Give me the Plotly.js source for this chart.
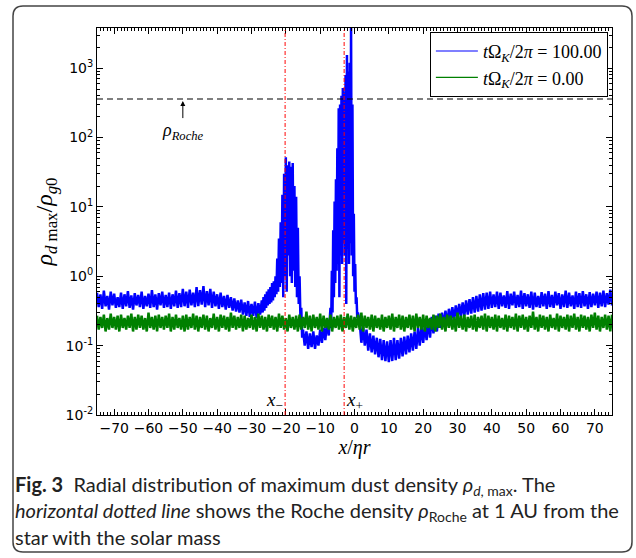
<!DOCTYPE html>
<html>
<head>
<meta charset="utf-8">
<script src="https://cdn.plot.ly/plotly-3.0.1.min.js"></script>
<style>
html,body{margin:0;padding:0;background:#fff;}
#chart{width:636px;height:558px;}
</style>
</head>
<body>
<div id="chart"></div>
<script>
// ---------- DATA ----------
const seriesNames = ['<i>t</i>Ω<sub><i>K</i></sub>/2<i>π</i> = 100.00', '<i>t</i>Ω<sub><i>K</i></sub>/2<i>π</i> = 0.00'];
const xTickVals = [-70,-60,-50,-40,-30,-20,-10,0,10,20,30,40,50,60,70];
const yTickVals = [0.01,0.1,1,10,100,1000];
const yTickText = ['10<sup>-2</sup>','10<sup>-1</sup>','10<sup>0</sup>','10<sup>1</sup>','10<sup>2</sup>','10<sup>3</sup>'];
const rocheDensity = [360];
const resonanceX = [-20.2, -3.0];
const resonanceLabels = ['<i>x</i><sub>−</sub>', '<i>x</i><sub>+</sub>'];

// blue series, t = 100: segment grids [start, step]
const blueLeftGrid = [-75, 0.5];
const blueLeft = [0.58,0.36,0.55,0.34,0.62,0.37,0.52,0.33,0.6,0.38,0.56,0.35,0.5,0.36,0.58,0.34,0.55,0.37,0.61,0.35,
0.53,0.33,0.57,0.38,0.54,0.36,0.6,0.34,0.52,0.37,0.56,0.35,0.63,0.36,0.55,0.33,0.57,0.38,0.6,0.35,
0.54,0.36,0.58,0.34,0.55,0.37,0.62,0.35,0.57,0.36,0.66,0.37,0.6,0.35,0.64,0.38,0.58,0.36,0.7,0.37,
0.63,0.39,0.72,0.36,0.61,0.38,0.66,0.35,0.6,0.37,0.55,0.34,0.58,0.36,0.52,0.33,0.54,0.35,0.5,0.32,
0.48,0.31,0.45,0.3,0.46,0.28,0.42,0.27,0.44,0.26,0.4,0.27,0.43,0.25,0.41,0.28];
const bluePeak1Grid = [-27, 0.25];
const bluePeak1 = [0.45,0.3,0.5,0.32,0.55,0.35,0.6,0.38,0.65,0.4,0.7,0.42,0.8,0.45,0.85,0.5,1.0,0.55,1.8,0.6,
3.5,0.7,6,0.8,15,0.5,30,1,52,0.6,40,2,45,1,38,0.8,43,1.2,20,0.7,
14,0.5,5,0.4,1,0.25,0.35,0.13];
const blueMidGrid = [-15, 0.5];
const blueMid = [0.17,0.1,0.16,0.09,0.15,0.095,0.16,0.09,0.14,0.1,0.17,0.11,0.18,0.12,0.22,0.14];
const bluePeak2Grid = [-7, 0.2];
const bluePeak2 = [0.35,0.18,1.2,0.3,4.6,0.5,12,0.8,25,1.2,70,1.5,265,0.5,300,2,400,1.5,520,3,
450,2,800,0.4,1550,2.5,900,1.5,1200,3,3800,2,300,1,8,0.6,1.5,0.4,0.5,0.25,0.3];
const blueRightGrid = [1.5, 0.5];
const blueRight = [0.22,0.11,0.19,0.1,0.17,0.085,0.15,0.08,0.14,0.075,0.13,0.068,0.125,0.062,0.12,0.06,0.115,0.058,0.12,0.06,
0.13,0.062,0.12,0.065,0.13,0.07,0.135,0.075,0.14,0.08,0.15,0.085,0.16,0.09,0.18,0.1,0.19,0.11,0.2,0.12,
0.24,0.13,0.26,0.15,0.27,0.16,0.29,0.18,0.3,0.19,0.32,0.2,0.34,0.22,0.36,0.23,0.38,0.25,0.4,0.26,
0.42,0.27,0.45,0.28,0.47,0.29,0.5,0.3,0.52,0.31,0.55,0.32,0.57,0.33,0.58,0.34,0.6,0.35,
0.55,0.36,0.6,0.34,0.58,0.37,0.53,0.35,0.61,0.34,0.56,0.38,0.6,0.35,0.54,0.36,0.62,0.34,0.57,0.37,
0.55,0.35,0.6,0.33,0.58,0.36,0.52,0.35,0.59,0.37,0.56,0.34,0.61,0.36,0.54,0.35,0.6,0.38,0.57,0.34,
0.55,0.36,0.62,0.35,0.58,0.37,0.53,0.34,0.6,0.36,0.57,0.35,0.61,0.37,0.55,0.34,0.59,0.36,0.56,0.38,
0.6,0.35,0.58,0.37,0.62,0.36,0.57,0.39,0.64,0.38];

// green series, t = 0
const greenGrid = [-75, 0.5];
const green = [0.27,0.17,0.26,0.18,0.28,0.16,0.25,0.17,0.29,0.18,0.26,0.17,0.27,0.16,0.28,0.18,0.25,0.17,0.27,0.18,
0.29,0.16,0.26,0.17,0.28,0.18,0.27,0.17,0.25,0.16,0.3,0.18,0.26,0.17,0.27,0.16,0.28,0.18,0.26,0.17,
0.27,0.18,0.29,0.16,0.26,0.17,0.28,0.18,0.25,0.17,0.27,0.16,0.28,0.17,0.26,0.18,0.29,0.17,0.27,0.16,
0.26,0.18,0.28,0.17,0.27,0.16,0.25,0.18,0.29,0.17,0.26,0.16,0.28,0.18,0.27,0.17,0.26,0.16,0.3,0.18,
0.27,0.17,0.26,0.18,0.28,0.16,0.27,0.17,0.25,0.18,0.28,0.17,0.26,0.16,0.29,0.18,0.27,0.17,0.26,0.16,
0.28,0.18,0.27,0.17,0.26,0.16,0.29,0.18,0.27,0.17,0.25,0.16,0.28,0.18,0.26,0.17,0.27,0.16,0.28,0.17,
0.26,0.18,0.31,0.17,0.27,0.16,0.28,0.18,0.26,0.17,0.29,0.16,0.27,0.18,0.25,0.17,0.28,0.16,0.26,0.18,
0.27,0.17,0.28,0.16,0.26,0.18,0.29,0.17,0.27,0.16,0.26,0.18,0.28,0.17,0.3,0.16,0.27,0.18,0.26,0.17,
0.28,0.16,0.27,0.18,0.25,0.17,0.28,0.16,0.26,0.18,0.27,0.17,0.29,0.16,0.26,0.18,0.28,0.17,0.27,0.16,
0.26,0.18,0.28,0.17,0.27,0.16,0.29,0.18,0.26,0.17,0.28,0.16,0.27,0.18,0.25,0.17,0.28,0.16,0.27,0.18,
0.29,0.17,0.26,0.16,0.28,0.18,0.27,0.17,0.26,0.16,0.3,0.18,0.27,0.17,0.28,0.16,0.26,0.18,0.27,0.17,
0.28,0.16,0.26,0.18,0.27,0.17,0.29,0.16,0.27,0.18,0.26,0.17,0.28,0.16,0.27,0.18,0.25,0.17,0.28,0.16,
0.27,0.18,0.26,0.17,0.29,0.16,0.27,0.18,0.28,0.17,0.26,0.16,0.27,0.18,0.31,0.17,0.26,0.16,0.28,0.18,
0.27,0.17,0.26,0.16,0.28,0.18,0.25,0.17,0.29,0.16,0.27,0.18,0.26,0.17,0.28,0.16,0.27,0.18,0.29,0.17,
0.26,0.16,0.28,0.18,0.27,0.17,0.26,0.16,0.28,0.18,0.3,0.17,0.27,0.16,0.26,0.18,0.28,0.17,0.27,0.16,
0.28];

// ---------- BUILD ----------
function gridX(grid, n){ const a=[]; for(let i=0;i<n;i++) a.push(+(grid[0]+grid[1]*i).toFixed(3)); return a; }
const blueX = [].concat(gridX(blueLeftGrid, blueLeft.length), gridX(bluePeak1Grid, bluePeak1.length),
  gridX(blueMidGrid, blueMid.length), gridX(bluePeak2Grid, bluePeak2.length), gridX(blueRightGrid, blueRight.length));
const blueY = [].concat(blueLeft, bluePeak1, blueMid, bluePeak2, blueRight);
const greenX = gridX(greenGrid, green.length);

const minorY = [];
for (let k=-2;k<=3;k++) for (let m=2;m<=9;m++) minorY.push(m*Math.pow(10,k));

// pixel -> paper helpers for the figure frame (plot area 97..612 x 28..415)
const L=97,R=612,T=28,B=415;
const px=v=>(v-L)/(R-L), py=v=>(B-v)/(B-T);

const serif = 'Liberation Serif, DejaVu Serif, serif';
const sans = 'DejaVu Sans, sans-serif';
const capFont = {family:'Lato, Noto Sans, sans-serif', size:20, color:'#222'};

const traces = [
  {x: blueX, y: blueY, type:'scatter', mode:'lines', name: seriesNames[0], showlegend:false,
   line:{color:'#0000ff', width:2.5}},
  {x: greenX, y: green, type:'scatter', mode:'lines', name: seriesNames[1], showlegend:false,
   line:{color:'#008000', width:2.5}},
  // legend keys (thin lines as in the reference legend)
  {x:[null], y:[null], type:'scatter', mode:'lines', name: seriesNames[0], line:{color:'#7f7fff', width:2}},
  {x:[null], y:[null], type:'scatter', mode:'lines', name: seriesNames[1], line:{color:'#008000', width:1.2}}
];

const x0=px(13), x1=px(632), yT=py(6), yB=py(552), rx=10/(R-L), ry=10/(B-T);
const framePath = `M ${x0+rx},${yT} L ${x1-rx},${yT} Q ${x1},${yT} ${x1},${yT-ry} L ${x1},${yB+ry} Q ${x1},${yB} ${x1-rx},${yB} L ${x0+rx},${yB} Q ${x0},${yB} ${x0},${yB+ry} L ${x0},${yT-ry} Q ${x0},${yT} ${x0+rx},${yT} Z`;

const shapes = [
  {type:'path', xref:'paper', yref:'paper', path: framePath, line:{color:'#444', width:1.5}, layer:'below'},
  {type:'line', xref:'paper', yref:'y', x0:0, x1:1, y0:rocheDensity[0], y1:rocheDensity[0],
   line:{color:'#000', width:1.2, dash:'6px,4px'}},
];
resonanceX.forEach(xv => shapes.push({type:'line', xref:'x', yref:'paper', x0:xv, x1:xv, y0:0, y1:1,
  line:{color:'rgba(255,0,0,0.65)', width:1.5, dash:'4px,2px,1px,2px'}}));

const annotations = [
  {x:-50, y:Math.log10(rocheDensity[0])-0.03, xref:'x', yref:'y', text:'<i>ρ</i><sub><i>Roche</i></sub>',
   showarrow:true, arrowhead:2, arrowsize:1, arrowwidth:1, arrowcolor:'#000', ax:0, ay:30,
   font:{family:serif, size:18, color:'#000'}},
  {x:resonanceX[0], y:0, xref:'x', yref:'paper', xanchor:'right', yanchor:'bottom', text:resonanceLabels[0],
   showarrow:false, font:{family:serif, size:19, color:'#000'}},
  {x:resonanceX[1], y:0, xref:'x', yref:'paper', xanchor:'left', yanchor:'bottom', text:resonanceLabels[1],
   showarrow:false, font:{family:serif, size:19, color:'#000'}},
  {x:px(13), y:py(485), xref:'paper', yref:'paper', xanchor:'left', yanchor:'middle', showarrow:false, align:'left',
   text:'<b>Fig. 3</b>  Radial distribution of maximum dust density <i>ρ</i><sub><i>d</i>, max</sub>. The', font:capFont},
  {x:px(13), y:py(511), xref:'paper', yref:'paper', xanchor:'left', yanchor:'middle', showarrow:false, align:'left',
   text:'<i>horizontal dotted line</i> shows the Roche density <i>ρ</i><sub>Roche</sub> at 1 AU from the', font:capFont},
  {x:px(13), y:py(537), xref:'paper', yref:'paper', xanchor:'left', yanchor:'middle', showarrow:false, align:'left',
   text:'star with the solar mass', font:capFont}
];

const layout = {
  width:636, height:558,
  margin:{l:L, r:636-R, t:T, b:558-B, pad:0},
  paper_bgcolor:'#fff', plot_bgcolor:'#fff',
  showlegend:true,
  legend:{x:0.992, y:0.99, xanchor:'right', yanchor:'top', bgcolor:'#fff', bordercolor:'#000', borderwidth:1,
    font:{family:serif, size:18, color:'#000'}, tracegroupgap:0, itemwidth:42},
  xaxis:{range:[-75,75], tickvals:xTickVals, ticks:'inside', ticklen:6, tickcolor:'#000', showline:true, linecolor:'#000',
    linewidth:1, mirror:'allticks', showgrid:false, zeroline:false,
    tickfont:{family:sans, size:14, color:'#000'},
    minor:{dtick:1, tick0:0, ticks:'inside', ticklen:3, tickcolor:'#000', showgrid:false},
    title:{text:'<i>x</i>/<i>ηr</i>', font:{family:serif, size:20, color:'#000'}, standoff:4}},
  yaxis:{type:'log', range:[-2, 3.58], tickvals:yTickVals, ticktext:yTickText, ticks:'inside', ticklen:6, tickcolor:'#000',
    showline:true, linecolor:'#000', linewidth:1, mirror:'allticks', showgrid:false, zeroline:false,
    tickfont:{family:sans, size:14, color:'#000'},
    minor:{tickvals:minorY, ticks:'inside', ticklen:3, tickcolor:'#000', showgrid:false},
    title:{text:'<i>ρ</i><sub><i>d</i> max</sub>/<i>ρ</i><sub><i>g</i>0</sub>', font:{family:serif, size:24, color:'#000'}, standoff:6}},
  shapes: shapes,
  annotations: annotations
};

Plotly.newPlot('chart', traces, layout, {displayModeBar:false, staticPlot:true});
</script>
</body>
</html>
